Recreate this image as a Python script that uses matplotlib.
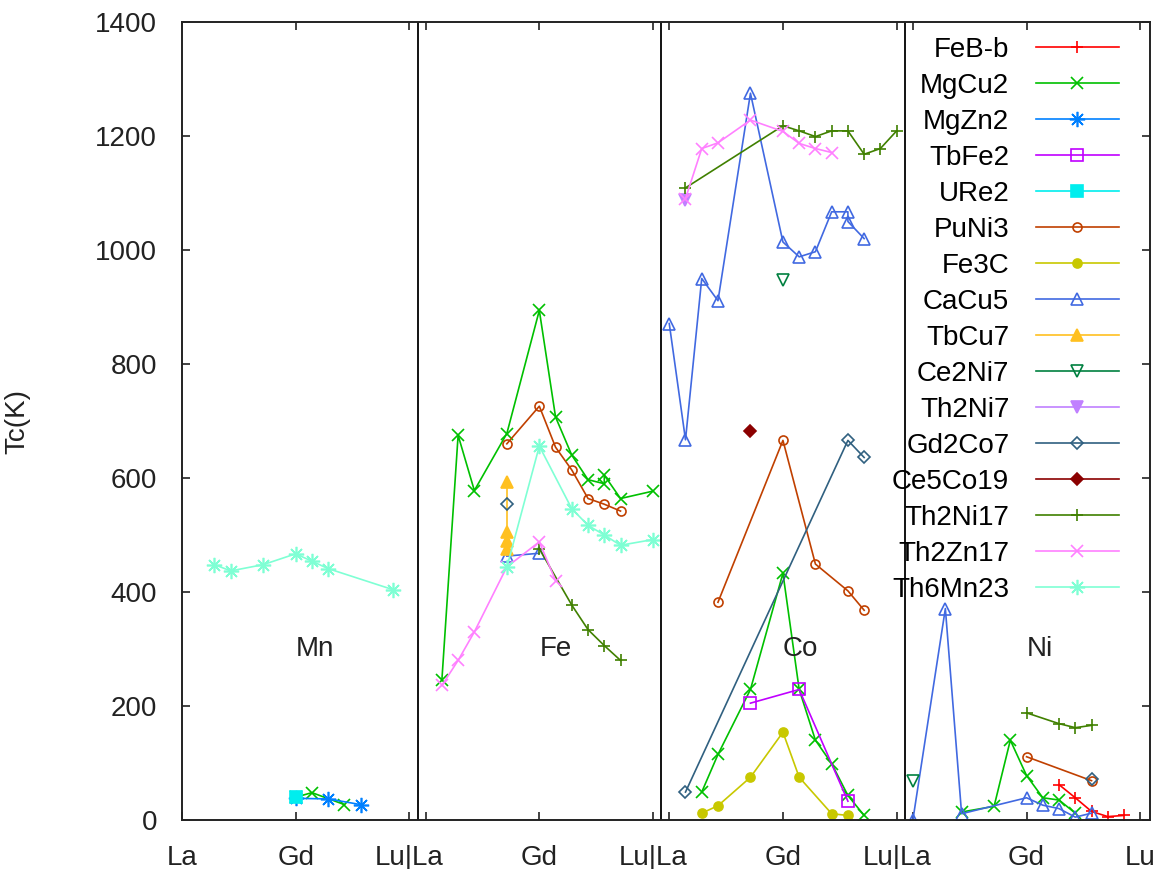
import matplotlib
matplotlib.use("Agg")
import matplotlib.pyplot as plt

plt.rcParams['font.family'] = ['Liberation Sans', 'DejaVu Sans']
plt.rcParams['font.size'] = 20

rare_earths = ['La', 'Ce', 'Pr', 'Nd', 'Pm', 'Sm', 'Eu', 'Gd', 'Tb', 'Dy', 'Ho', 'Er', 'Tm', 'Yb', 'Lu']
metals = ['Mn', 'Fe', 'Co', 'Ni']

# (transition metal, rare earth, Tc in K)
feb_b = [('Ni', 'Dy', 62), ('Ni', 'Ho', 39), ('Ni', 'Er', 15), ('Ni', 'Tm', 6), ('Ni', 'Yb', 8)]
mgcu2 = [('Mn', 'Gd', 40), ('Mn', 'Tb', 48), ('Mn', 'Ho', 27),
         ('Fe', 'Ce', 245), ('Fe', 'Pr', 675), ('Fe', 'Nd', 578), ('Fe', 'Sm', 678), ('Fe', 'Gd', 894),
         ('Fe', 'Tb', 707), ('Fe', 'Dy', 640), ('Fe', 'Ho', 597), ('Fe', 'Er', 590), ('Fe', 'Er', 605),
         ('Fe', 'Tm', 564), ('Fe', 'Lu', 577),
         ('Co', 'Pr', 49), ('Co', 'Nd', 115), ('Co', 'Sm', 229), ('Co', 'Gd', 433), ('Co', 'Tb', 229),
         ('Co', 'Dy', 140), ('Co', 'Ho', 99), ('Co', 'Er', 43), ('Co', 'Tm', 8),
         ('Ni', 'Nd', 14), ('Ni', 'Sm', 24), ('Ni', 'Eu', 140), ('Ni', 'Gd', 78), ('Ni', 'Tb', 39),
         ('Ni', 'Dy', 35), ('Ni', 'Ho', 12)]
mgzn2 = [('Mn', 'Gd', 38), ('Mn', 'Dy', 37), ('Mn', 'Er', 27)]
tbfe2 = [('Co', 'Sm', 205), ('Co', 'Tb', 229), ('Co', 'Er', 33)]
ure2 = [('Mn', 'Gd', 40)]
puni3 = [('Fe', 'Sm', 660), ('Fe', 'Gd', 726), ('Fe', 'Tb', 654), ('Fe', 'Dy', 614), ('Fe', 'Ho', 564),
         ('Fe', 'Er', 554), ('Fe', 'Tm', 542),
         ('Co', 'Nd', 382), ('Co', 'Gd', 666), ('Co', 'Dy', 449), ('Co', 'Er', 402), ('Co', 'Tm', 368),
         ('Ni', 'Gd', 111), ('Ni', 'Er', 69)]
fe3c = [('Co', 'Pr', 12), ('Co', 'Nd', 25), ('Co', 'Sm', 75), ('Co', 'Gd', 154), ('Co', 'Tb', 75),
        ('Co', 'Ho', 11), ('Co', 'Er', 8)]
cacu5 = [('Fe', 'Sm', 463), ('Fe', 'Gd', 468),
         ('Co', 'La', 871), ('Co', 'Ce', 667), ('Co', 'Pr', 950), ('Co', 'Nd', 911), ('Co', 'Sm', 1275),
         ('Co', 'Gd', 1014), ('Co', 'Tb', 988), ('Co', 'Dy', 997), ('Co', 'Ho', 1067), ('Co', 'Er', 1067),
         ('Co', 'Er', 1050), ('Co', 'Tm', 1020),
         ('Ni', 'La', 0), ('Ni', 'Pr', 371), ('Ni', 'Nd', 11), ('Ni', 'Gd', 39), ('Ni', 'Tb', 26),
         ('Ni', 'Dy', 20), ('Ni', 'Ho', 5), ('Ni', 'Er', 12)]
tbcu7 = [('Fe', 'Sm', 593), ('Fe', 'Sm', 505), ('Fe', 'Sm', 490), ('Fe', 'Sm', 475)]
ce2ni7 = [('Co', 'Gd', 947), ('Ni', 'La', 69)]
th2ni7 = [('Co', 'Ce', 1088)]
gd2co7 = [('Fe', 'Sm', 554), ('Co', 'Ce', 49), ('Co', 'Er', 666), ('Co', 'Tm', 636), ('Ni', 'Er', 72)]
ce5co19 = [('Co', 'Sm', 683)]
th2ni17 = [('Fe', 'Gd', 476), ('Fe', 'Dy', 377), ('Fe', 'Ho', 334), ('Fe', 'Er', 306), ('Fe', 'Tm', 280),
           ('Co', 'Ce', 1109), ('Co', 'Gd', 1218), ('Co', 'Tb', 1209), ('Co', 'Dy', 1199), ('Co', 'Ho', 1209),
           ('Co', 'Er', 1209), ('Co', 'Tm', 1168), ('Co', 'Yb', 1178), ('Co', 'Lu', 1209),
           ('Ni', 'Gd', 188), ('Ni', 'Dy', 169), ('Ni', 'Ho', 162), ('Ni', 'Er', 166)]
th2zn17 = [('Fe', 'Ce', 236), ('Fe', 'Pr', 280), ('Fe', 'Nd', 330), ('Fe', 'Sm', 444), ('Fe', 'Gd', 488),
           ('Fe', 'Tb', 420),
           ('Co', 'Ce', 1090), ('Co', 'Pr', 1178), ('Co', 'Nd', 1188), ('Co', 'Sm', 1228), ('Co', 'Gd', 1208),
           ('Co', 'Tb', 1187), ('Co', 'Dy', 1178), ('Co', 'Ho', 1171)]
th6mn23 = [('Mn', 'Pr', 448), ('Mn', 'Nd', 437), ('Mn', 'Sm', 448), ('Mn', 'Gd', 467), ('Mn', 'Tb', 454),
           ('Mn', 'Dy', 441), ('Mn', 'Yb', 404),
           ('Fe', 'Sm', 443), ('Fe', 'Gd', 656), ('Fe', 'Dy', 546), ('Fe', 'Ho', 517), ('Fe', 'Er', 500),
           ('Fe', 'Tm', 482), ('Fe', 'Lu', 492)]

ast = (8, 2, 0)
series = [
    ('FeB-b', feb_b, '#ff0000', '+', True),
    ('MgCu2', mgcu2, '#00c000', 'x', True),
    ('MgZn2', mgzn2, '#0080ff', ast, True),
    ('TbFe2', tbfe2, '#c000ff', 's', False),
    ('URe2', ure2, '#00eeee', 's', True),
    ('PuNi3', puni3, '#c04000', 'o', False),
    ('Fe3C', fe3c, '#c8c800', 'o', True),
    ('CaCu5', cacu5, '#4169e1', '^', False),
    ('TbCu7', tbcu7, '#ffc020', '^', True),
    ('Ce2Ni7', ce2ni7, '#008040', 'v', False),
    ('Th2Ni7', th2ni7, '#c080ff', 'v', True),
    ('Gd2Co7', gd2co7, '#306080', 'D', False),
    ('Ce5Co19', ce5co19, '#8b0000', 'D', True),
    ('Th2Ni17', th2ni17, '#408000', '+', True),
    ('Th2Zn17', th2zn17, '#ff80ff', 'x', True),
    ('Th6Mn23', th6mn23, '#7fffd4', ast, True),
]

W, H = 1156, 869
fig = plt.figure(figsize=(W / 100, H / 100), dpi=100)
ax = fig.add_axes([182 / W, 1 - 820 / H, (1150 - 182) / W, (820 - 22) / H])

for name, data, color, marker, filled in series:
    xs, ys = [], []
    prev = None
    for m, r, t in data:
        # break the line between metal blocks
        if prev is not None and m != prev:
            xs.append(float('nan'))
            ys.append(float('nan'))
        xs.append(15 * metals.index(m) + rare_earths.index(r))
        ys.append(t)
        prev = m
    if marker in ('o', 'D'):
        size = 6.5
    elif marker == ast:
        size = 11
    else:
        size = 8
    ax.plot(xs, ys, color=color, lw=1.2, marker=marker, markersize=size,
            markeredgewidth=1.2, fillstyle='full' if filled else 'none', label=name)

for k in range(1, 4):
    ax.axvline(15 * k - 0.5, color='black', lw=1.3)

for k, m in enumerate(metals):
    ax.text(15 * k + 7, 300, m, ha='left', va='center', color='#222222')

ticks, labels = [], []
for k in range(4):
    ticks += [15 * k, 15 * k + 7, 15 * k + 14]
    labels += ['' if k else 'La', 'Gd', 'Lu' if k == 3 else 'Lu|La']
ax.set_xticks(ticks)
ax.set_xticklabels(labels)
ax.set_yticks(range(0, 1401, 200))
ax.set_xlim(0, 59.6)
ax.set_ylim(0, 1400)
ax.tick_params(direction='in', length=6, width=1.2, top=True, right=True, colors='#222222')
ax.tick_params(axis='x', pad=18)
ax.tick_params(axis='y', pad=18)
for s in ax.spines.values():
    s.set_linewidth(1.4)
    s.set_color('#222222')

ax.set_ylabel('Tc(K)', color='#222222')
ax.yaxis.set_label_coords(-0.157, 0.5)

ax.legend(loc='upper right', bbox_to_anchor=(1119 / W, 1 - 37 / H), bbox_transform=fig.transFigure,
          frameon=False, markerfirst=False, handlelength=3.0, handletextpad=0.95,
          borderpad=0, borderaxespad=0, labelspacing=0.36)

fig.savefig('out.png', dpi=100)
